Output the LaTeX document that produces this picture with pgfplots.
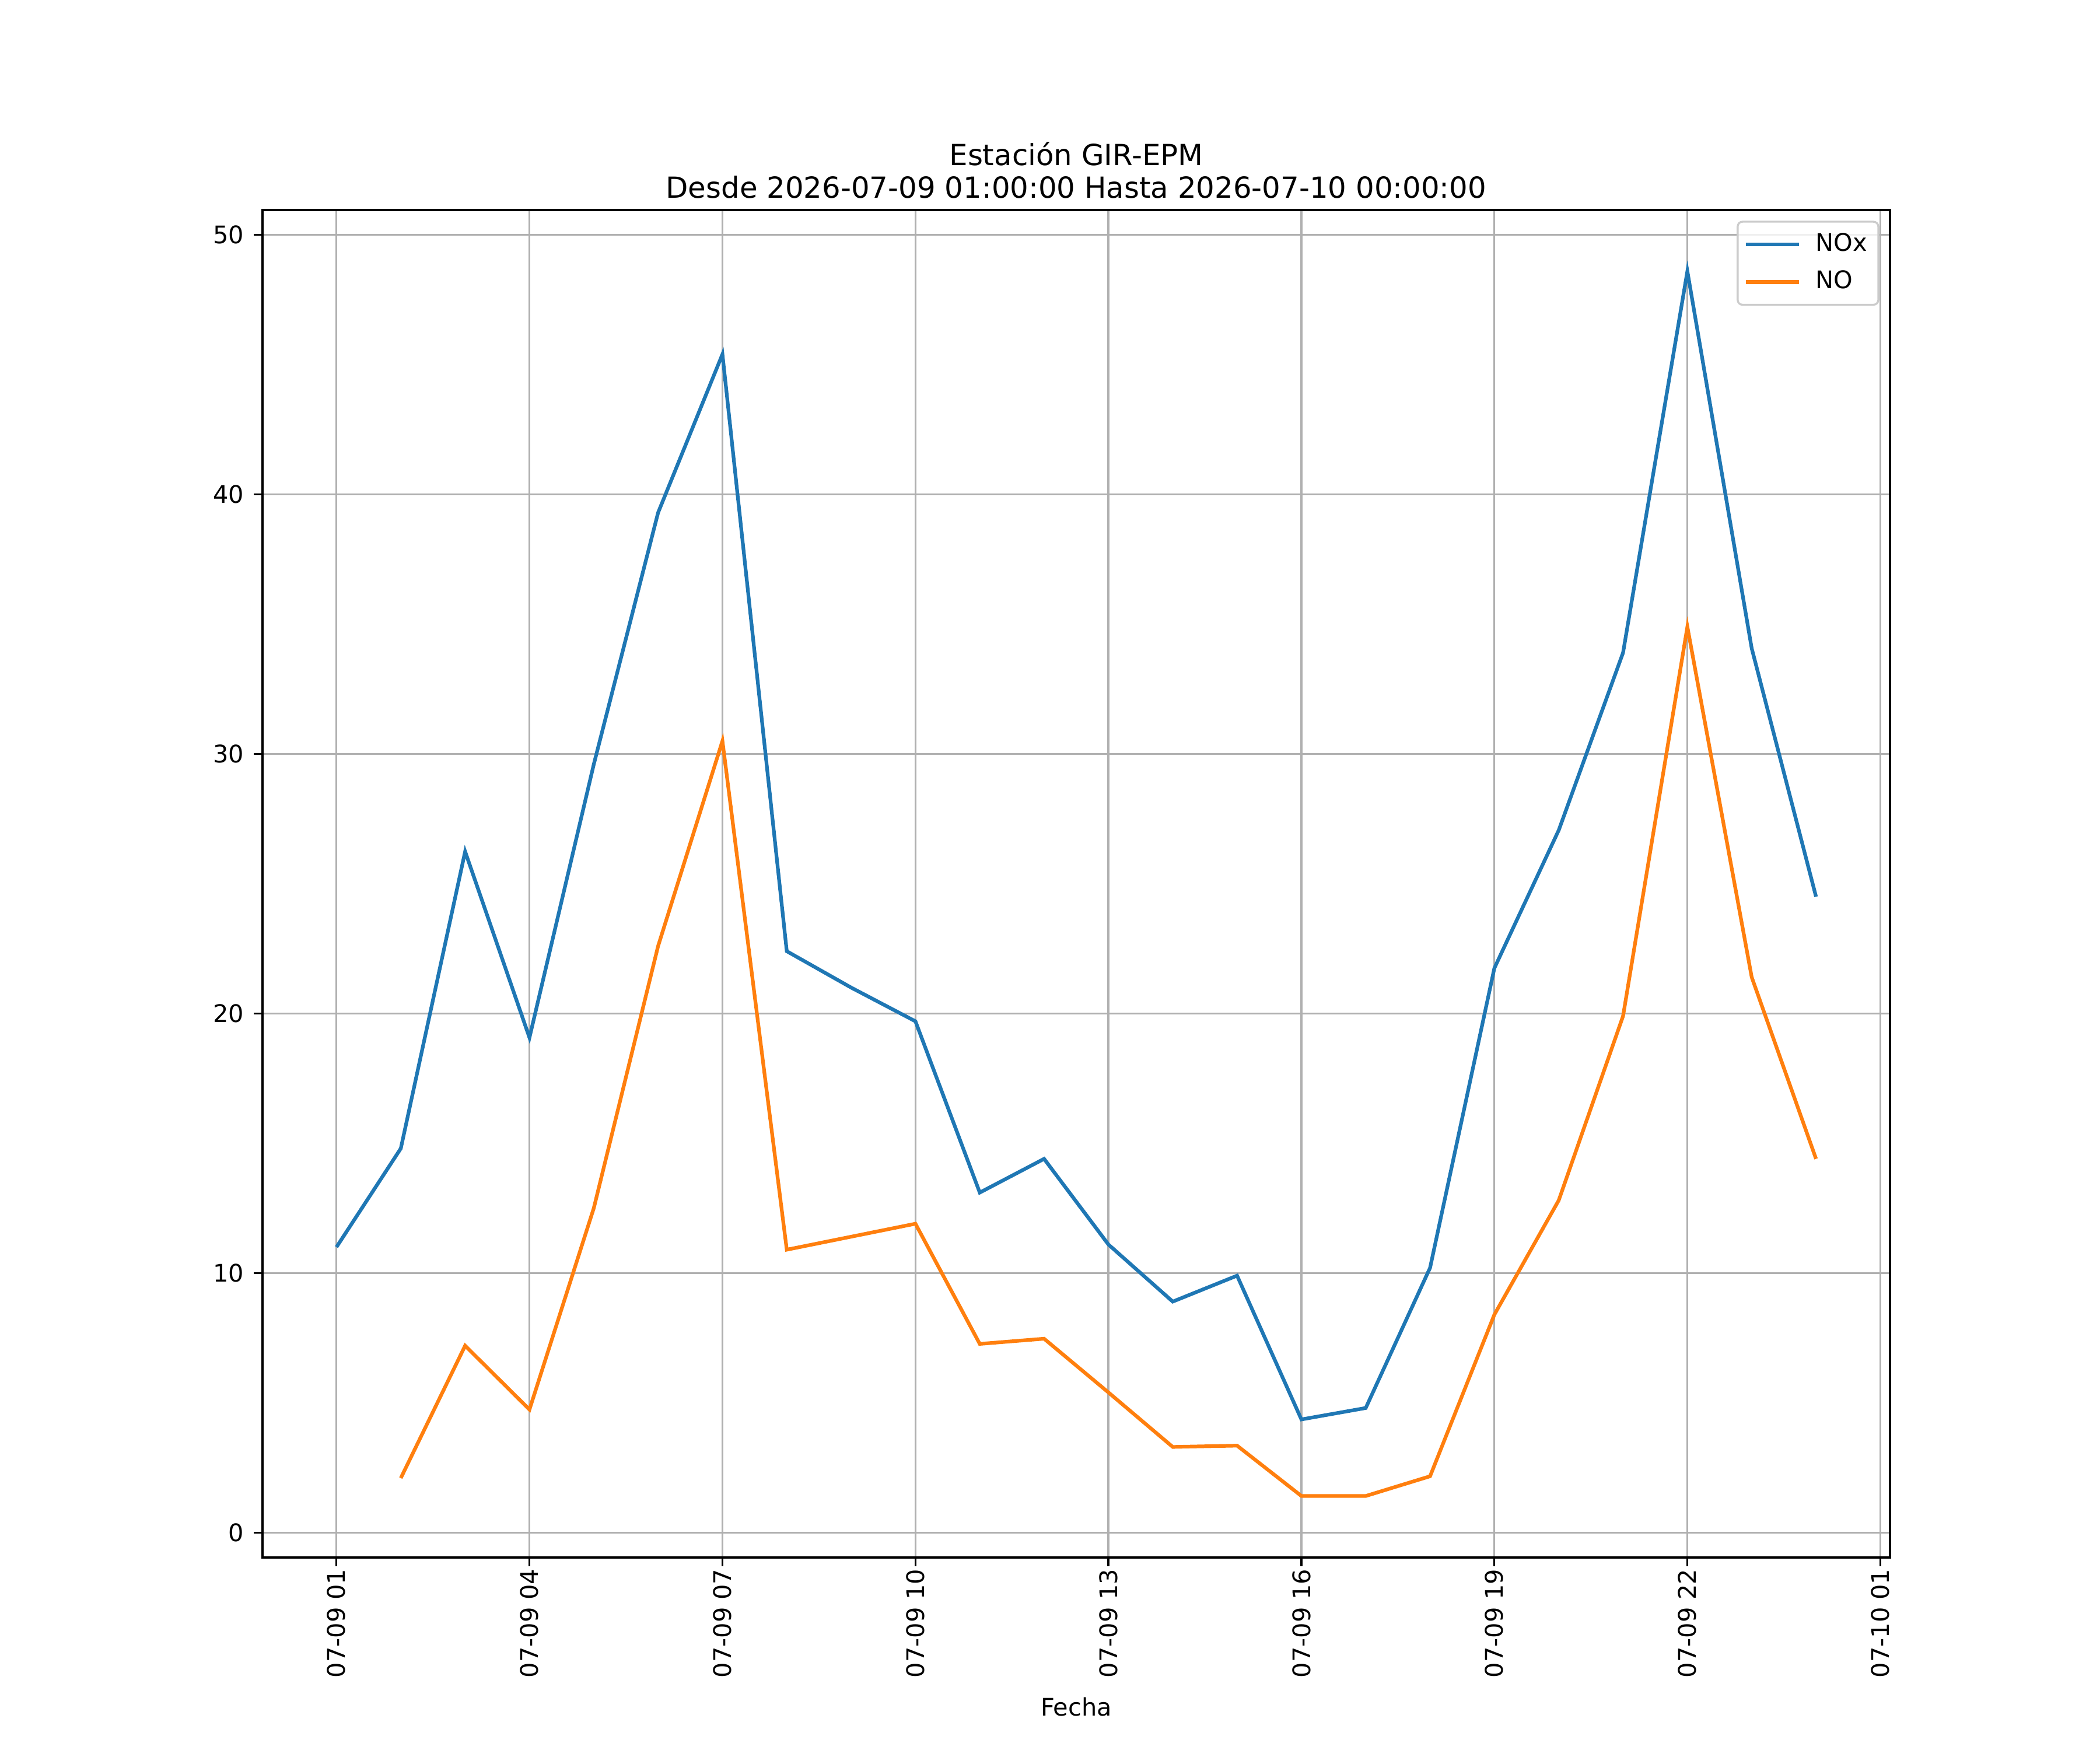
\documentclass[border=0pt]{standalone}
\usepackage{fontspec}
\setmainfont{DejaVu Sans}
\usepackage{pgfplots}
\pgfplotsset{compat=1.18}
\definecolor{cA}{HTML}{1F77B4}
\definecolor{cB}{HTML}{FF7F0E}
\definecolor{gridc}{HTML}{B0B0B0}
\begin{document}
\begin{tikzpicture}
\useasboundingbox (-1.5in,-1.1in) rectangle (10.5in,8.9in);
\begin{axis}[
  at={(0,0)}, anchor=south west,
  scale only axis, width=9.3in, height=7.7in,
  xmin=-0.15, xmax=25.15, ymin=-0.96, ymax=50.96,
  xtick={1,4,7,10,13,16,19,22,25},
  xticklabels={07-09 01,07-09 04,07-09 07,07-09 10,07-09 13,07-09 16,07-09 19,07-09 22,07-10 01},
  ytick={0,10,20,30,40,50},
  /pgf/number format/assume math mode=true,
  tick label style={font=\fontsize{10}{12}\selectfont},
  xticklabel style={rotate=90, anchor=east, inner sep=0pt, xshift=-1pt},
  yticklabel style={inner sep=0pt, xshift=-4pt},
  tick align=outside, tick pos=left,
  major tick length=3.5pt,
  every tick/.style={black, line width=0.8pt},
  axis line style={line width=0.8pt},
  grid=major,
  major grid style={gridc, line width=0.8pt},
  xlabel={Fecha},
  xlabel style={font=\fontsize{10}{12}\selectfont, inner sep=0pt, yshift=-8pt},
  title={Estación GIR-EPM\\Desde 2026-07-09 01:00:00 Hasta 2026-07-10 00:00:00},
  title style={align=center, font=\fontsize{12}{13.5}\selectfont, inner sep=0pt, yshift=-1.5pt},
  legend style={font=\fontsize{10}{12}\selectfont, draw=black!20, rounded corners=2pt, fill=white, fill opacity=0.8, text opacity=1, line width=0.8pt, at={(0.9934,0.992)}, anchor=north east, row sep=2pt, inner sep=2.65pt, column sep=4pt,
    nodes={text height=7.5pt, text depth=2pt, inner sep=2pt}},
  legend cell align=left,
  legend image code/.code={\draw[#1, line width=1.5pt] (0pt,0pt) -- (22pt,0pt);},
]
\addplot[cA, line width=1.5pt] coordinates {
(1,11.0) (2,14.8) (3,26.24) (4,19.07) (5,29.6) (6,39.3) (7,45.4) (8,22.4)
(9,21.0) (10,19.7) (11,13.1) (12,14.4) (13,11.1) (14,8.9) (15,9.9) (16,4.36)
(17,4.8) (18,10.2) (19,21.75) (20,27.06) (21,33.9) (22,48.6) (23,34.07) (24,24.5)
};
\addlegendentry{NOx}
\addplot[cB, line width=1.5pt] coordinates {
(2,2.1) (3,7.2) (4,4.74) (5,12.5) (6,22.6) (7,30.5) (8,10.9)
(9,11.4) (10,11.9) (11,7.27) (12,7.47) (13,5.4) (14,3.3) (15,3.35) (16,1.41)
(17,1.41) (18,2.17) (19,8.4) (20,12.8) (21,19.9) (22,34.9) (23,21.4) (24,14.4)
};
\addlegendentry{NO}
\end{axis}
\end{tikzpicture}
\end{document}
